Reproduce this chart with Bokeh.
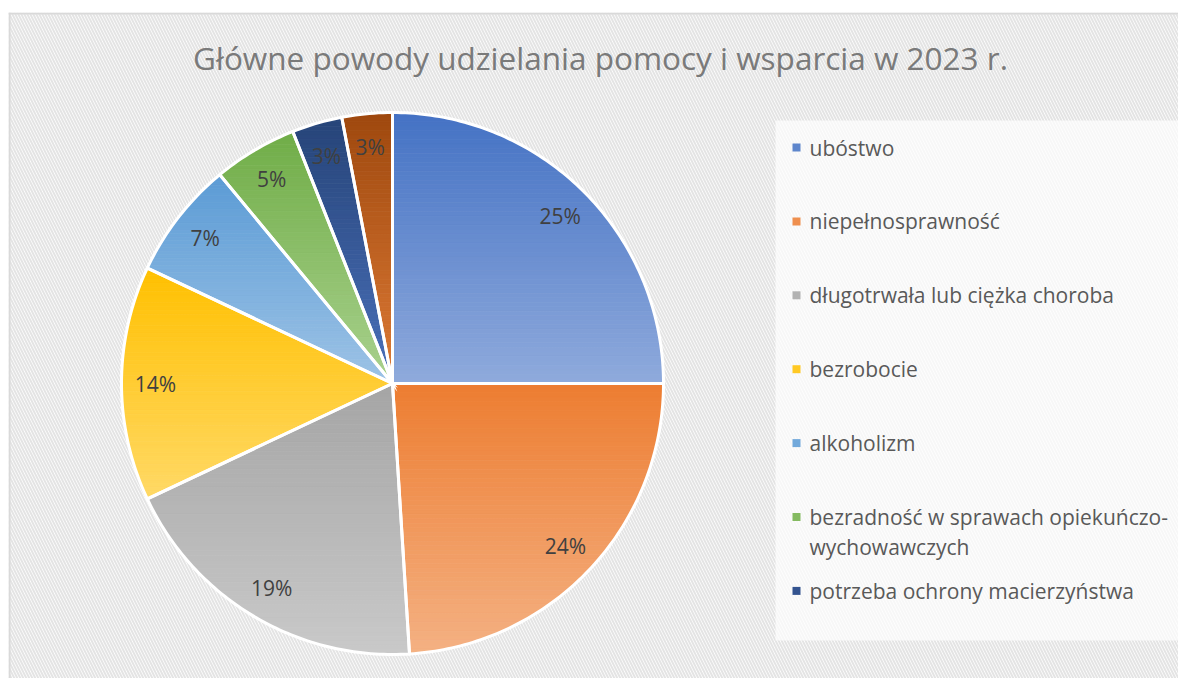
import numpy as np
from bokeh.plotting import figure
from bokeh.models import Range1d, BoxAnnotation, Span
from bokeh.core.properties import value
from bokeh.embed import file_html
from bokeh.resources import INLINE

# ---------------- data ----------------
title = "Główne powody udzielania pomocy i wsparcia w 2023 r."
categories = [
    "ubóstwo",
    "niepełnosprawność",
    "długotrwała lub ciężka choroba",
    "bezrobocie",
    "alkoholizm",
    "bezradność w sprawach opiekuńczo-wychowawczych",
    "potrzeba ochrony macierzyństwa",
    "inne",
]
percent = [25, 24, 19, 14, 7, 5, 3, 3]

# ---------------- style ----------------
top_colors = ["#4472C4", "#ED7D31", "#A5A5A5", "#FFC000", "#5B9BD5", "#70AD47", "#264478", "#9E480E"]
bot_colors = ["#8FAADC", "#F4B183", "#C9C9C9", "#FFD966", "#9DC3E6", "#A9D18E", "#4A70BA", "#DD7A35"]
CX, CY, R = 392.0, 383.0, 271.0
LABEL_R = 0.875 * R
W, H = 1178, 678

def hex2rgb(h):
    h = h.lstrip("#")
    return np.array([int(h[i:i + 2], 16) for i in (0, 2, 4)], dtype=float)

def mix(c1, c2, t):
    a, b = hex2rgb(c1), hex2rgb(c2)
    c = a + (b - a) * t
    return "#%02x%02x%02x" % tuple(int(round(v)) for v in c)

def clip_band(poly, y0, y1):
    def clip(pts, keep, inter):
        out = []
        n = len(pts)
        for i in range(n):
            cur, prev = pts[i], pts[i - 1]
            if keep(cur):
                if not keep(prev):
                    out.append(inter(prev, cur))
                out.append(cur)
            elif keep(prev):
                out.append(inter(prev, cur))
        return out

    def ix(yv):
        def f(p, q):
            t = (yv - p[1]) / (q[1] - p[1])
            return (p[0] + t * (q[0] - p[0]), yv)
        return f

    pts = clip(poly, lambda p: p[1] >= y0, ix(y0))
    if not pts:
        return []
    pts = clip(pts, lambda p: p[1] <= y1, ix(y1))
    return pts

TOP, LEFT = 12, 8
p = figure(width=W, height=H, x_range=Range1d(LEFT, W), y_range=Range1d(H, TOP),
           output_backend="svg", toolbar_location=None, x_axis_type=None, y_axis_type=None,
           min_border_left=LEFT, min_border_right=0, min_border_top=TOP, min_border_bottom=0,
           outline_line_color=None, background_fill_color="white", border_fill_color="white")
p.grid.visible = False

# hatched chart background
p.add_layout(BoxAnnotation(fill_color="white", fill_alpha=1.0, line_color=None,
                           hatch_pattern="\\", hatch_color="#E4E4E4", hatch_scale=6,
                           hatch_weight=2, level="underlay"))
# chart border (left / top)
p.add_layout(Span(location=LEFT + 1, dimension="height", line_color="#D9D9D9", line_width=2))
p.add_layout(Span(location=TOP + 1, dimension="width", line_color="#D9D9D9", line_width=2))

# legend background
p.add_layout(BoxAnnotation(left=775, right=W, top=120, bottom=640, fill_color="white",
                           fill_alpha=0.7, line_color=None, level="underlay"))

# ---------------- pie ----------------
total = float(sum(percent))
fracs = np.array(percent) / total
ends = np.cumsum(fracs)
starts = ends - fracs

band_xs, band_ys, band_cols = [], [], []
out_xs, out_ys = [], []
lab_x, lab_y, lab_t = [], [], []
for i, (s, e) in enumerate(zip(starts, ends)):
    th = np.linspace(s, e, max(8, int(400 * (e - s)))) * 2 * np.pi
    xs = [CX] + list(CX + R * np.sin(th))
    ys = [CY] + list(CY - R * np.cos(th))
    out_xs.append(xs)
    out_ys.append(ys)
    poly = list(zip(xs, ys))
    ymin, ymax = min(ys), max(ys)
    nb = 60
    edges = np.linspace(ymin, ymax, nb + 1)
    for k in range(nb):
        part = clip_band(poly, edges[k], edges[k + 1])
        if len(part) < 3:
            continue
        t = (k + 0.5) / nb
        band_xs.append([q[0] for q in part])
        band_ys.append([q[1] for q in part])
        band_cols.append(mix(top_colors[i], bot_colors[i], t))
    mid = (s + e) / 2 * 2 * np.pi
    lab_x.append(CX + LABEL_R * np.sin(mid))
    lab_y.append(CY - LABEL_R * np.cos(mid))
    lab_t.append(f"{percent[i] / total * 100:.0f}%")

p.patches(band_xs, band_ys, fill_color=band_cols, line_color=band_cols, line_width=0.8)
p.patches(out_xs, out_ys, fill_color=None, line_color="white", line_width=3, line_join="miter")

p.text(lab_x, lab_y, text=lab_t, text_align="center", text_baseline="middle",
       text_font=value("Open Sans"), text_font_size="21px", text_color="#404040")

# ---------------- title ----------------
p.text([600], [57], text=[title], text_align="center", text_baseline="middle",
       text_font=value("Open Sans"), text_font_size="31.5px", text_color="#7A7A7A")

# ---------------- legend ----------------
LEG_Y0, LEG_STEP, LEG_BOTTOM = 147, 73.9, 640
mx, my, mc, tx, ty, tt = [], [], [], [], [], []
for i, name in enumerate(categories):
    y = LEG_Y0 + i * LEG_STEP
    if y > LEG_BOTTOM - 20:
        break
    mx.append(796)
    my.append(y)
    mc.append(mix(top_colors[i], bot_colors[i], 0.35))
    lines = name.replace("opiekuńczo-", "opiekuńczo-\n").split("\n")
    for j, ln in enumerate(lines):
        tx.append(809)
        ty.append(y + 30 * j)
        tt.append(ln)

p.scatter(mx, my, marker="square", size=8, fill_color=mc, line_color=None)
p.text(tx, ty, text=tt, text_align="left", text_baseline="middle",
       text_font=value("Open Sans"), text_font_size="21px", text_color="#595959")

open("out.html", "w").write(file_html(p, INLINE))
